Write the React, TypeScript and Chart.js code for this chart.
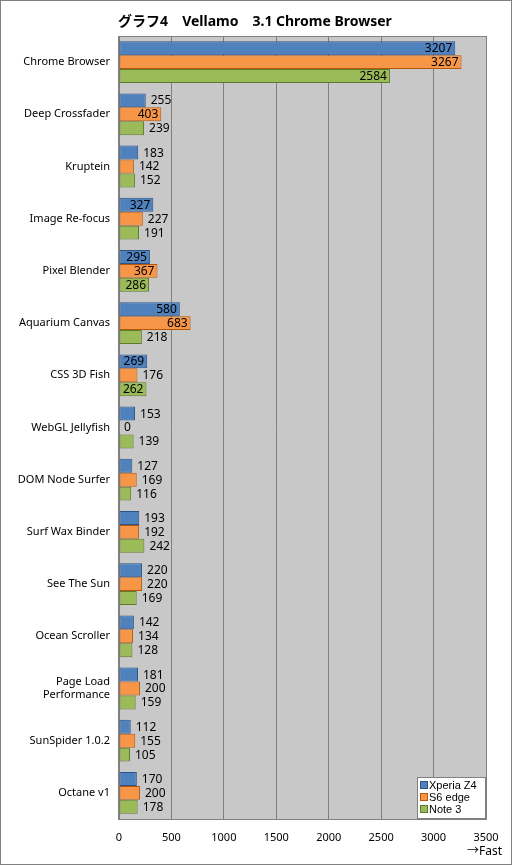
import React, { useEffect, useRef } from "react";
import { Chart, registerables } from "chart.js";

Chart.register(...registerables);

const categories: (string | string[])[] = [
  "Chrome Browser",
  "Deep Crossfader",
  "Kruptein",
  "Image Re-focus",
  "Pixel Blender",
  "Aquarium Canvas",
  "CSS 3D Fish",
  "WebGL Jellyfish",
  "DOM Node Surfer",
  "Surf Wax Binder",
  "See The Sun",
  "Ocean Scroller",
  ["Page Load", "Performance"],
  "SunSpider 1.0.2",
  "Octane v1",
];

const xperiaZ4 = [3207, 255, 183, 327, 295, 580, 269, 153, 127, 193, 220, 142, 181, 112, 170];
const s6Edge = [3267, 403, 142, 227, 367, 683, 176, 0, 169, 192, 220, 134, 200, 155, 200];
const note3 = [2584, 239, 152, 191, 286, 218, 262, 139, 116, 242, 169, 128, 159, 105, 178];

const seriesNames = ["Xperia Z4", "S6 edge", "Note 3"];
const xTicks = [0, 500, 1000, 1500, 2000, 2500, 3000, 3500];
const titleText = "グラフ4　Vellamo　3.1 Chrome Browser";

const FONT = "'Noto Sans', 'Noto Sans CJK JP', sans-serif";
const LEGEND_FONT = "'Liberation Sans', Arial, sans-serif";

const fills = ["#4F81BD", "#F79646", "#9BBB59"];
const borders = ["#2C5288", "#B65708", "#5E7A2E"];

const decorPlugin = {
  id: "decor",
  beforeDraw(chart: any) {
    const { ctx, chartArea: a } = chart;
    ctx.save();
    ctx.fillStyle = "#ffffff";
    ctx.fillRect(0, 0, chart.width, chart.height);
    ctx.fillStyle = "#C8C8C8";
    ctx.fillRect(a.left, a.top, a.right - a.left, a.bottom - a.top);
    ctx.restore();
  },
  afterDatasetsDraw(chart: any) {
    const { ctx, chartArea: a } = chart;
    ctx.save();
    ctx.font = `12px ${FONT}`;
    ctx.fillStyle = "#000";
    ctx.textBaseline = "middle";
    chart.data.datasets.forEach((ds: any, di: number) => {
      const meta = chart.getDatasetMeta(di);
      meta.data.forEach((bar: any, i: number) => {
        const v = ds.data[i];
        const txt = String(v);
        if (v >= 260) {
          ctx.textAlign = "right";
          ctx.fillText(txt, bar.x - 3, bar.y + 0.5);
        } else {
          ctx.textAlign = "left";
          ctx.fillText(txt, bar.x + 5, bar.y + 0.5);
        }
      });
    });
    ctx.strokeStyle = "#808080";
    ctx.lineWidth = 1;
    ctx.strokeRect(Math.round(a.left) - 0.5, Math.round(a.top) + 0.5, Math.round(a.right - a.left) + 1, Math.round(a.bottom - a.top));
    const lx = 417.5, ly = 777.5, lw = 68, lh = 41;
    ctx.fillStyle = "#fff";
    ctx.fillRect(lx, ly, lw, lh);
    ctx.strokeStyle = "#808080";
    ctx.strokeRect(lx, ly, lw, lh);
    ctx.font = `11px ${LEGEND_FONT}`;
    ctx.textAlign = "left";
    seriesNames.forEach((n, i) => {
      const cy = 785 + i * 12;
      ctx.fillStyle = fills[i];
      ctx.fillRect(421, cy - 3, 6, 6);
      ctx.strokeStyle = borders[i];
      ctx.strokeRect(420.5, cy - 3.5, 7, 7);
      ctx.fillStyle = "#000";
      ctx.fillText(n, 429, cy + 0.5);
    });
    ctx.restore();
  },
  afterDraw(chart: any) {
    const { ctx } = chart;
    ctx.save();
    ctx.fillStyle = "#000";
    ctx.font = `bold 14px ${FONT}`;
    ctx.textAlign = "center";
    ctx.textBaseline = "middle";
    ctx.fillText(titleText, 255, 22);
    ctx.font = `12px ${FONT}`;
    ctx.textAlign = "right";
    ctx.fillText("→Fast", 502, 852);
    ctx.strokeStyle = "#808080";
    ctx.lineWidth = 1;
    ctx.strokeRect(0.5, 0.5, chart.width - 1, chart.height - 1);
    ctx.restore();
  },
};

export default function App() {
  const ref = useRef<HTMLCanvasElement>(null);
  useEffect(() => {
    document.body.style.margin = "0";
    const chart = new Chart(ref.current as HTMLCanvasElement, {
      type: "bar",
      data: {
        labels: categories,
        datasets: [xperiaZ4, s6Edge, note3].map((d, i) => ({
          label: seriesNames[i],
          data: d,
          backgroundColor: fills[i],
          borderColor: borders[i],
          borderWidth: 1,
          borderSkipped: false,
          categoryPercentage: 0.8,
          barPercentage: 1,
        })),
      },
      options: {
        indexAxis: "y",
        animation: false,
        responsive: false,
        devicePixelRatio: 1,
        layout: { padding: { left: 0, top: 36, right: 26, bottom: 0 } },
        plugins: { legend: { display: false }, tooltip: { enabled: false }, title: { display: false } },
        scales: {
          x: {
            min: 0,
            max: 3500,
            afterBuildTicks: (s: any) => {
              s.ticks = xTicks.map((v) => ({ value: v }));
            },
            afterFit: (s: any) => {
              s.height = 46;
            },
            grid: { color: "#808080", drawTicks: false, tickLength: 0 },
            border: { display: false },
            ticks: {
              padding: 12,
              color: "#000",
              font: { family: FONT, size: 11 },
              callback: (v: any) => String(v),
            },
          },
          y: {
            afterFit: (s: any) => {
              s.width = 119;
            },
            grid: { display: false, drawTicks: false },
            border: { display: false },
            ticks: { padding: 9, color: "#000", font: { family: FONT, size: 11 }, autoSkip: false },
          },
        },
      },
      plugins: [decorPlugin],
    } as any);
    return () => chart.destroy();
  }, []);
  return <canvas ref={ref} width={512} height={865} style={{ display: "block" }} />;
}
